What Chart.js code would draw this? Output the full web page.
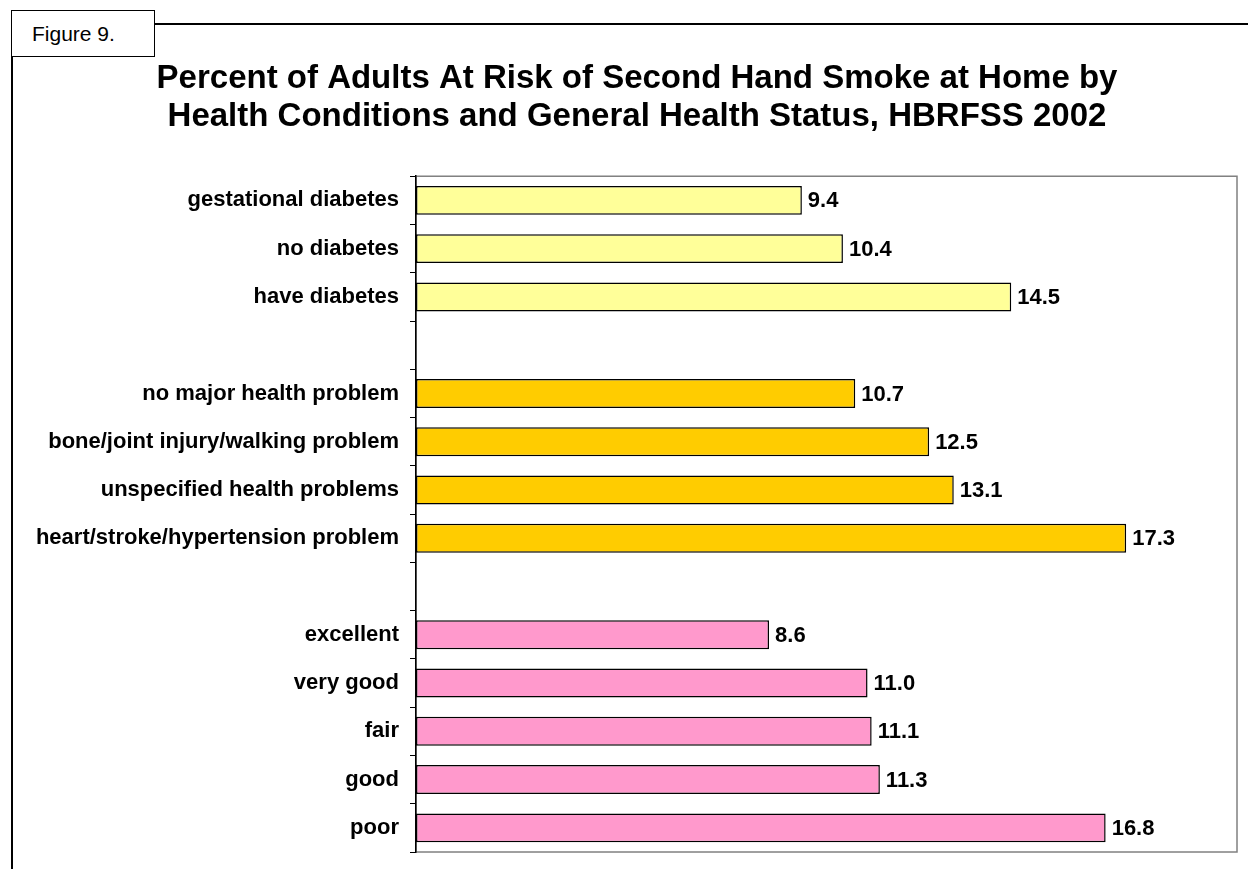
<!DOCTYPE html>
<html>
<head>
<meta charset="utf-8">
<script src="https://cdn.jsdelivr.net/npm/chart.js@4"></script>
<style>
  html, body { margin: 0; background: #fff; overflow: hidden; }
  #riskChart { position: absolute; left: 0; top: 0; }
  #frame { position: absolute; left: 11px; top: 23px; width: 1237px; height: 846px;
           border-left: 2px solid #000; border-top: 2px solid #000; box-sizing: border-box; }
  #figbox { position: absolute; left: 11px; top: 10px; width: 142px; height: 45px;
            border: 1.5px solid #000; background: #fff;
            font: 21px "Liberation Sans", Arial, sans-serif; line-height: 45px; }
  #figbox span { position: absolute; left: 20px; top: 0; }
</style>
</head>
<body>
<div id="frame"></div>
<canvas id="riskChart" width="1248" height="869"></canvas>
<div id="figbox"><span>Figure 9.</span></div>
<script>
// diabetes group
const diabetesLabels = ['gestational diabetes', 'no diabetes', 'have diabetes'];
const diabetesValues = [9.4, 10.4, 14.5];
// health problem group
const healthLabels = ['no major health problem', 'bone/joint injury/walking problem',
  'unspecified health problems', 'heart/stroke/hypertension problem'];
const healthValues = [10.7, 12.5, 13.1, 17.3];
// general health status group
const statusLabels = ['excellent', 'very good', 'fair', 'good', 'poor'];
const statusValues = [8.6, 11.0, 11.1, 11.3, 16.8];

const groups = [
  { labels: diabetesLabels, values: diabetesValues, color: '#FFFF99' },
  { labels: healthLabels, values: healthValues, color: '#FFCC00' },
  { labels: statusLabels, values: statusValues, color: '#FF99CC' }
];

// join the groups, with an empty row between them
const labels = [], values = [], colors = [];
groups.forEach((g, gi) => {
  if (gi > 0) { labels.push(''); values.push(null); colors.push('#fff'); }
  g.labels.forEach((l, i) => {
    labels.push(l); values.push(g.values[i]); colors.push(g.color);
  });
});

const FONT = '"Liberation Sans", Arial, sans-serif';

// gray box round the plot area
const plotBox = {
  id: 'plotBox',
  beforeDraw(chart) {
    const { ctx, chartArea: a } = chart;
    ctx.save();
    ctx.strokeStyle = '#808080';
    ctx.lineWidth = 1.5;
    ctx.strokeRect(a.left, a.top, a.right - a.left, a.bottom - a.top);
    ctx.restore();
  }
};

// value labels at the end of each bar
const valueLabels = {
  id: 'valueLabels',
  afterDatasetsDraw(chart) {
    const ctx = chart.ctx;
    const meta = chart.getDatasetMeta(0);
    ctx.save();
    ctx.font = 'bold 22px ' + FONT;
    ctx.fillStyle = '#000';
    ctx.textAlign = 'left';
    ctx.textBaseline = 'middle';
    meta.data.forEach((bar, i) => {
      const v = values[i];
      if (v == null) return;
      ctx.fillText(v.toFixed(1), bar.x + 6, bar.y + 1);
    });
    ctx.restore();
  }
};

new Chart(document.getElementById('riskChart'), {
  type: 'bar',
  data: {
    labels: labels,
    datasets: [{
      data: values,
      backgroundColor: colors,
      borderColor: '#000',
      borderWidth: 1.5,
      borderSkipped: false,
      barPercentage: 0.6,
      categoryPercentage: 1
    }]
  },
  options: {
    indexAxis: 'y',
    responsive: false,
    animation: false,
    devicePixelRatio: 1,
    layout: { padding: { left: 37, right: 11, top: 0, bottom: 17 } },
    plugins: {
      legend: { display: false },
      tooltip: { enabled: false },
      title: {
        display: true,
        text: ['Percent of Adults At Risk of Second Hand Smoke at Home by',
               'Health Conditions and General Health Status, HBRFSS 2002'],
        color: '#000',
        font: { family: FONT, size: 33, weight: 'bold', lineHeight: 1.14 },
        padding: { top: 60, bottom: 41 }
      }
    },
    scales: {
      x: {
        display: false,
        min: 0,
        max: 20
      },
      y: {
        afterFit(scale) {
          scale.width = 379;
          scale.paddingTop = 0;
          scale.paddingBottom = 0;
        },
        grid: {
          drawOnChartArea: false,
          drawTicks: true,
          tickLength: 6,
          color: '#000',
          offset: true
        },
        border: { color: '#000', width: 1.5 },
        ticks: {
          color: '#000',
          padding: 11,
          font: { family: FONT, size: 22, weight: 'bold' }
        }
      }
    }
  },
  plugins: [plotBox, valueLabels]
});
</script>
</body>
</html>
